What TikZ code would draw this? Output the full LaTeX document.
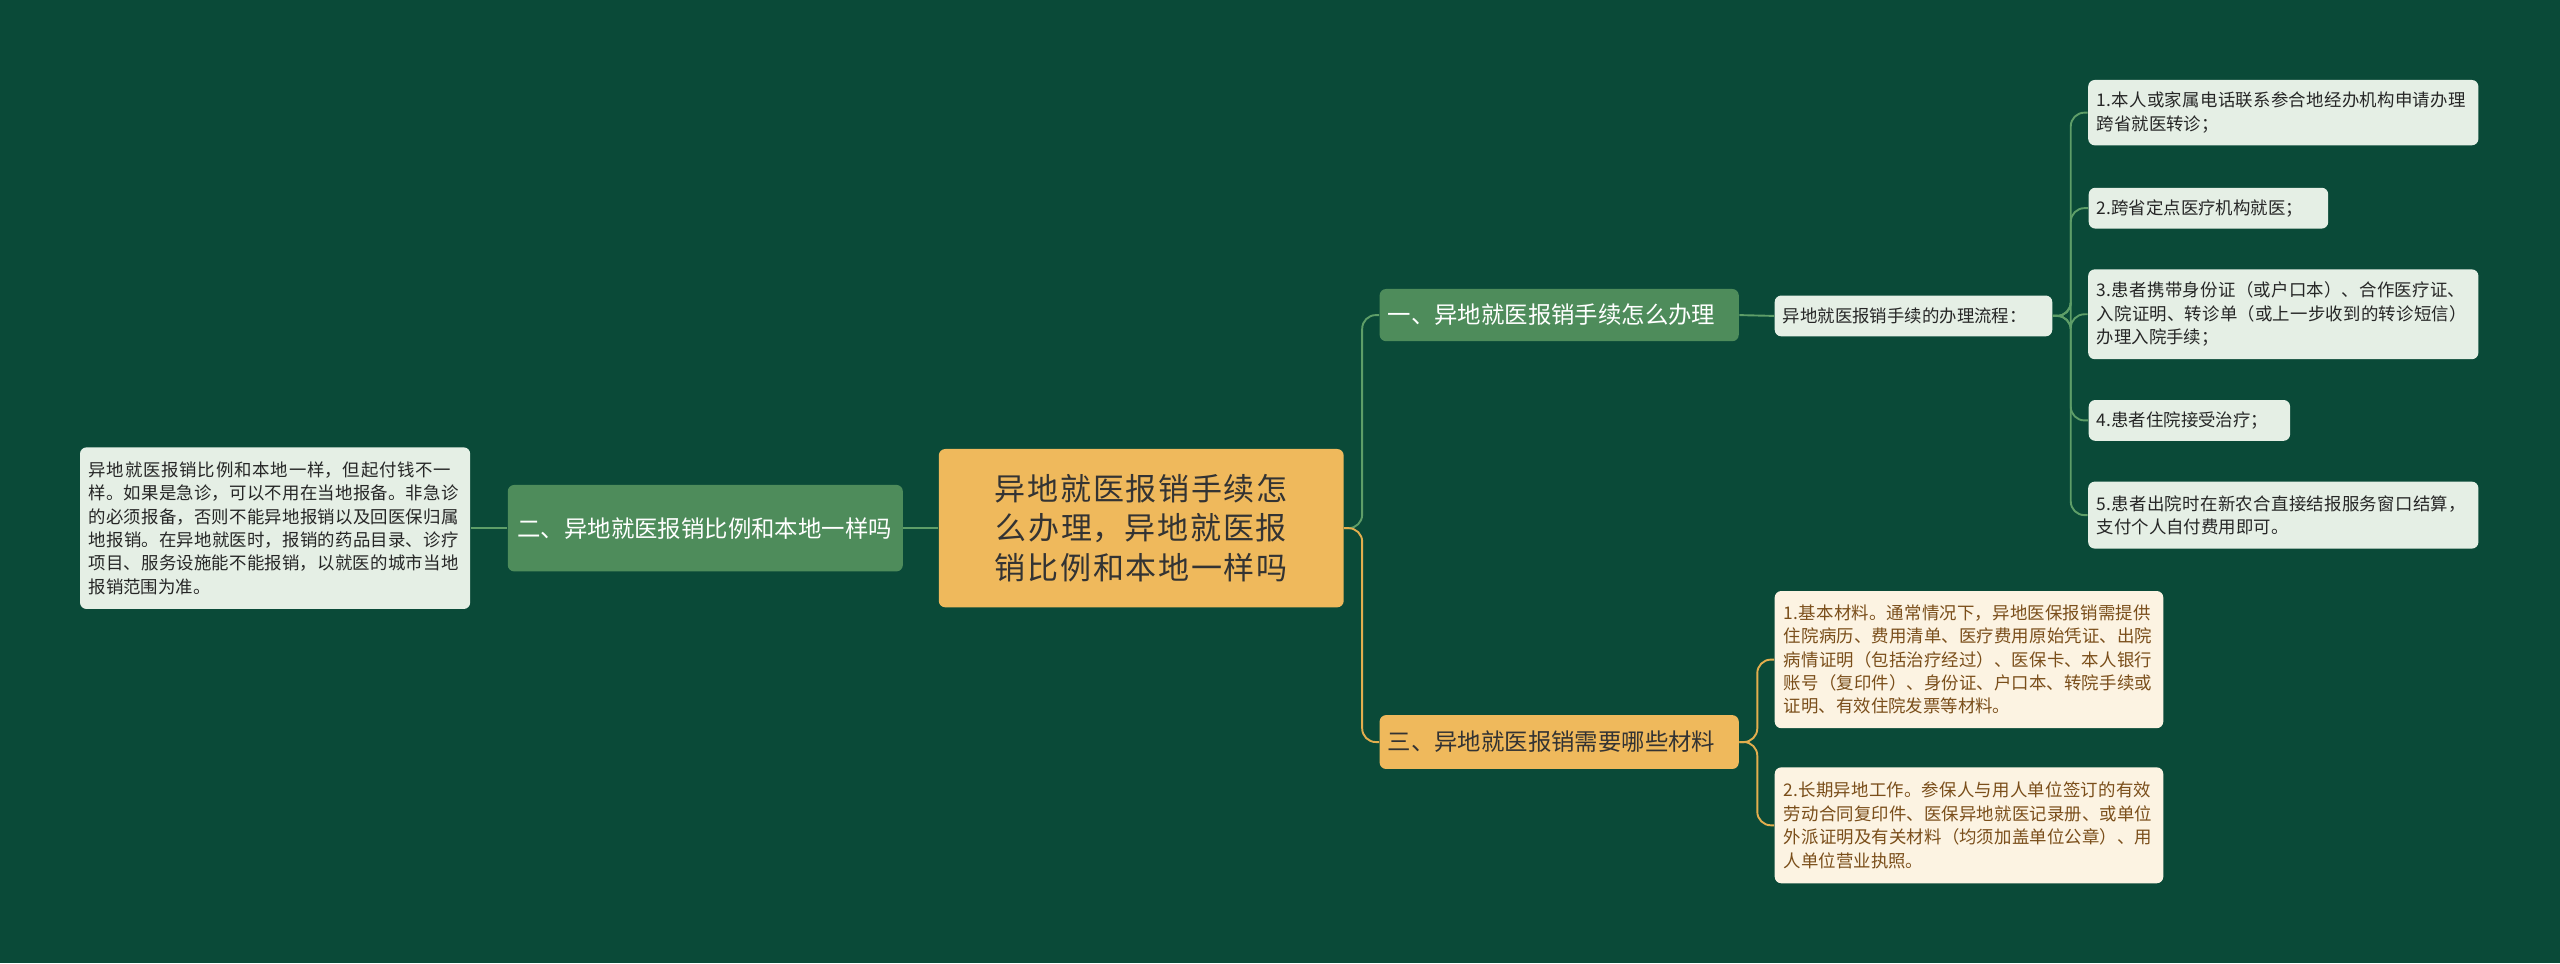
\documentclass[tikz,border=0pt]{standalone}
\usepackage{fontspec}
\setmainfont{Noto Sans CJK SC}
\XeTeXlinebreaklocale "zh"
\XeTeXlinebreakskip=0pt plus 1pt
\definecolor{bg}{HTML}{0A4A38}
\definecolor{gfill}{HTML}{4E8C5B}
\definecolor{ofill}{HTML}{EFB95C}
\definecolor{lfill}{HTML}{E5EFE5}
\definecolor{cfill}{HTML}{FCF3E2}
\definecolor{gline}{HTML}{5E9E68}
\definecolor{oline}{HTML}{E3AE4E}
\definecolor{ctext}{HTML}{7A4E1A}
\tikzset{
 box/.style={rounded corners=2.4pt, inner sep=3pt, align=left},
 center/.style={box, fill=ofill, text=black!80, font=\fontsize{11.4}{14.5}\selectfont, align=center},
 gbr/.style={box, fill=gfill, text=white, font=\fontsize{8.6}{11}\selectfont},
 obr/.style={box, fill=ofill, text=black!80, font=\fontsize{8.6}{11}\selectfont},
 gleaf/.style={box, fill=lfill, text=black!85, font=\fontsize{6.4}{8.6}\selectfont},
 cleaf/.style={box, fill=cfill, text=ctext, font=\fontsize{6.4}{8.6}\selectfont},
 gl/.style={draw=gline, line width=0.7pt, rounded corners=5pt},
 ol/.style={draw=oline, line width=0.7pt, rounded corners=5pt},
}
\begin{document}
\begin{tikzpicture}[x=0.6pt,y=-0.6pt]
\fill[bg] (0,0) rectangle (1568,590);
\useasboundingbox (0,0) rectangle (1568,590);
\node[center, minimum width=148.8pt, minimum height=58.2pt, text width=136pt] (c) at (699,323.5) {异地就医报销手续怎么办理，异地就医报销比例和本地一样吗};
\node[gbr, minimum width=145.2pt, minimum height=31.8pt, text width=138pt] (b2) at (432,323.5) {二、异地就医报销比例和本地一样吗};
\node[gleaf, minimum width=143.4pt, minimum height=59.4pt, text width=137pt] (l2) at (168.5,323.5) {异地就医报销比例和本地一样，但起付钱不一样。如果是急诊，可以不用在当地报备。非急诊的必须报备，否则不能异地报销以及回医保归属地报销。在异地就医时，报销的药品目录、诊疗项目、服务设施能不能报销，以就医的城市当地报销范围为准。};
\node[gbr, minimum width=132pt, minimum height=19.2pt, text width=126pt] (b1) at (955,193) {一、异地就医报销手续怎么办理};
\node[gleaf, minimum width=102pt, minimum height=15pt, text width=96pt] (s1) at (1172,193.5) {异地就医报销手续的办理流程：};
\node[gleaf, minimum width=143.4pt, minimum height=24pt, text width=137pt] (a1) at (1398.5,69) {1.本人或家属电话联系参合地经办机构申请办理跨省就医转诊；};
\node[gleaf, minimum width=88pt, minimum height=15pt, text width=82pt, anchor=west] (a2) at (1279,127.5) {2.跨省定点医疗机构就医；};
\node[gleaf, minimum width=143.4pt, minimum height=33pt, text width=137pt] (a3) at (1398.5,192.5) {3.患者携带身份证（或户口本）、合作医疗证、入院证明、转诊单（或上一步收到的转诊短信）办理入院手续；};
\node[gleaf, minimum width=74pt, minimum height=15pt, text width=68pt, anchor=west] (a4) at (1279,257.5) {4.患者住院接受治疗；};
\node[gleaf, minimum width=143.4pt, minimum height=24.6pt, text width=137pt] (a5) at (1398.5,315.5) {5.患者出院时在新农合直接结报服务窗口结算，支付个人自付费用即可。};
\node[obr, minimum width=132pt, minimum height=19.8pt, text width=126pt] (b3) at (955,454.5) {三、异地就医报销需要哪些材料};
\node[cleaf, minimum width=142.8pt, minimum height=50.4pt, text width=136pt] (d1) at (1206,404) {1.基本材料。通常情况下，异地医保报销需提供住院病历、费用清单、医疗费用原始凭证、出院病情证明（包括治疗经过）、医保卡、本人银行账号（复印件）、身份证、户口本、转院手续或证明、有效住院发票等材料。};
\node[cleaf, minimum width=142.8pt, minimum height=42.6pt, text width=136pt] (d2) at (1206,505.5) {2.长期异地工作。参保人与用人单位签订的有效劳动合同复印件、医保异地就医记录册、或单位外派证明及有关材料（均须加盖单位公章）、用人单位营业执照。};
\draw[gl] (c.west) -- (b2.east);
\draw[gl] (b2.west) -- (l2.east);
\draw[gl] (c.east) -- +(11,0) |- (b1.west);
\draw[ol] (c.east) -- +(11,0) |- (b3.west);
\draw[gl] (b1.east) -- (s1.west);
\foreach \n in {a1,a2,a3,a4,a5} \draw[gl] (s1.east) -- +(11,0) |- (\n.west);
\foreach \n in {d1,d2} \draw[ol] (b3.east) -- +(11,0) |- (\n.west);
\end{tikzpicture}
\end{document}
